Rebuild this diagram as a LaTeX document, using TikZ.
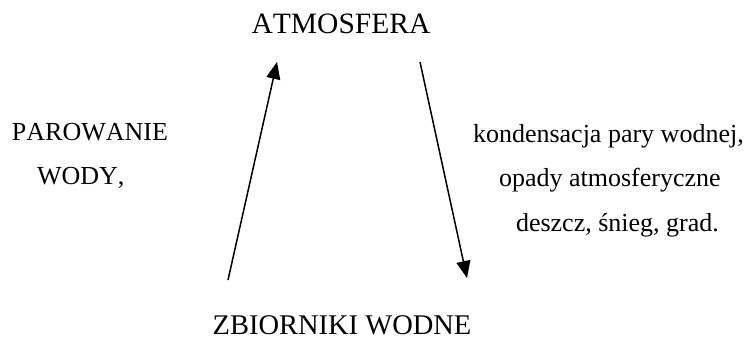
\documentclass[tikz,border=0pt]{standalone}
\usepackage{fontspec}
\setmainfont{Liberation Serif}[Kerning=Off]
\usetikzlibrary{arrows.meta}
\tikzset{
  lbl/.style={inner sep=0pt, outer sep=0pt, anchor=base west},
  bigl/.style={inner sep=0pt, outer sep=0pt, anchor=base},
  flow/.style={line width=1.5pt, -{Triangle[length=17pt,width=14pt]}}
}
\begin{document}
\begin{tikzpicture}[x=1pt,y=-1pt]
\useasboundingbox (0,0) rectangle (751,340);
\node[bigl, font=\fontsize{29.5}{34}\selectfont] (atm) at (341,33) {ATMOSFERA};
\node[bigl, font=\fontsize{28.5}{32}\selectfont] (zb) at (342,334) {ZBIORNIKI WODNE};
\node[lbl, font=\fontsize{26}{30}\selectfont] (par) at (12,140) {PAROWANIE};
\node[lbl, font=\fontsize{26}{30}\selectfont] (wody) at (37,184) {WODY,};
\node[lbl, font=\fontsize{26}{30}\selectfont] (kond) at (473,142) {kondensacja pary wodnej,};
\node[lbl, font=\fontsize{26}{30}\selectfont] (opady) at (499,186) {opady atmosferyczne};
\node[lbl, font=\fontsize{26}{30}\selectfont] (deszcz) at (516,231) {deszcz, śnieg, grad.};
\coordinate (upS) at (228,280);
\coordinate (upE) at (277,62);
\coordinate (dnS) at (420,62);
\coordinate (dnE) at (467,278);
\draw[flow] (upS) -- (upE);
\draw[flow] (dnS) -- (dnE);
\end{tikzpicture}
\end{document}
